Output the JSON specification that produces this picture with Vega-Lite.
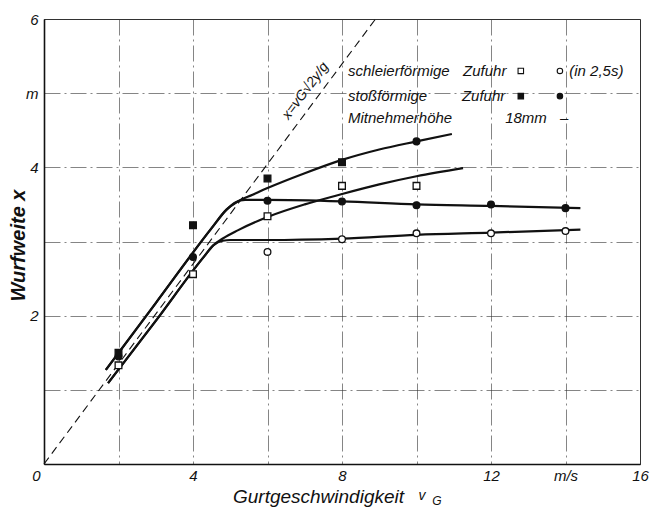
{
  "$schema": "https://vega.github.io/schema/vega-lite/v6.json",
  "width": 596,
  "height": 445,
  "autosize": "none",
  "padding": {"left": 44, "top": 19, "right": 17, "bottom": 46},
  "background": "white",
  "config": {
    "view": {"stroke": "#333", "strokeWidth": 1},
    "axis": {
      "domainColor": "#111",
      "domainWidth": 1.6,
      "grid": true,
      "gridColor": "#333",
      "gridWidth": 0.8,
      "gridDash": [16, 4, 2, 4],
      "gridOpacity": 0.75,
      "ticks": false,
      "labelFont": "Liberation Sans",
      "labelFontStyle": "italic",
      "labelFontSize": 15,
      "labelColor": "#111",
      "labelOverlap": false,
      "labelBound": false,
      "labelFlush": false,
      "titleFont": "Liberation Sans",
      "titleFontStyle": "italic",
      "titleColor": "#111"
    }
  },
  "datasets": {
    "curves": [
      {"series": "A", "x": 1.66, "y": 1.27}, {"series": "A", "x": 3.0, "y": 2.17}, {"series": "A", "x": 4.5, "y": 3.18}, {"series": "A", "x": 4.9, "y": 3.43}, {"series": "A", "x": 5.2, "y": 3.54}, {"series": "A", "x": 5.6, "y": 3.63}, {"series": "A", "x": 6, "y": 3.72}, {"series": "A", "x": 7, "y": 3.92}, {"series": "A", "x": 8, "y": 4.1}, {"series": "A", "x": 9, "y": 4.24}, {"series": "A", "x": 10, "y": 4.35}, {"series": "A", "x": 10.95, "y": 4.45},
      {"series": "B", "x": 1.66, "y": 1.27}, {"series": "B", "x": 3.0, "y": 2.17}, {"series": "B", "x": 4.5, "y": 3.18}, {"series": "B", "x": 4.9, "y": 3.43}, {"series": "B", "x": 5.15, "y": 3.53}, {"series": "B", "x": 5.4, "y": 3.56}, {"series": "B", "x": 6, "y": 3.56}, {"series": "B", "x": 8, "y": 3.54}, {"series": "B", "x": 10, "y": 3.5}, {"series": "B", "x": 12, "y": 3.48}, {"series": "B", "x": 14.4, "y": 3.45},
      {"series": "C", "x": 1.72, "y": 1.09}, {"series": "C", "x": 3.0, "y": 1.93}, {"series": "C", "x": 4.3, "y": 2.8}, {"series": "C", "x": 4.55, "y": 2.95}, {"series": "C", "x": 4.8, "y": 3.01}, {"series": "C", "x": 5.0, "y": 3.02}, {"series": "C", "x": 6, "y": 3.02}, {"series": "C", "x": 8, "y": 3.04}, {"series": "C", "x": 10, "y": 3.09}, {"series": "C", "x": 12, "y": 3.12}, {"series": "C", "x": 14.4, "y": 3.16},
      {"series": "D", "x": 1.72, "y": 1.09}, {"series": "D", "x": 3.0, "y": 1.93}, {"series": "D", "x": 4.3, "y": 2.8}, {"series": "D", "x": 4.55, "y": 2.95}, {"series": "D", "x": 4.8, "y": 3.04}, {"series": "D", "x": 5.2, "y": 3.15}, {"series": "D", "x": 6, "y": 3.33}, {"series": "D", "x": 7, "y": 3.5}, {"series": "D", "x": 8, "y": 3.64}, {"series": "D", "x": 9, "y": 3.77}, {"series": "D", "x": 10, "y": 3.88}, {"series": "D", "x": 11.25, "y": 3.99}
    ],
    "theory": [{"x": 0, "y": 0}, {"x": 8.9, "y": 6}],
    "points": [
      {"x": 2, "y": 1.33, "shape": "square", "fill": "open"},
      {"x": 4, "y": 2.56, "shape": "square", "fill": "open"},
      {"x": 6, "y": 3.34, "shape": "square", "fill": "open"},
      {"x": 8, "y": 3.75, "shape": "square", "fill": "open"},
      {"x": 10, "y": 3.75, "shape": "square", "fill": "open"},
      {"x": 6, "y": 2.86, "shape": "circle", "fill": "open"},
      {"x": 8, "y": 3.03, "shape": "circle", "fill": "open"},
      {"x": 10, "y": 3.11, "shape": "circle", "fill": "open"},
      {"x": 12, "y": 3.11, "shape": "circle", "fill": "open"},
      {"x": 14, "y": 3.14, "shape": "circle", "fill": "open"},
      {"x": 2, "y": 1.45, "shape": "circle", "fill": "solid"},
      {"x": 4, "y": 2.79, "shape": "circle", "fill": "solid"},
      {"x": 6, "y": 3.55, "shape": "circle", "fill": "solid"},
      {"x": 8, "y": 3.54, "shape": "circle", "fill": "solid"},
      {"x": 10, "y": 3.49, "shape": "circle", "fill": "solid"},
      {"x": 12, "y": 3.5, "shape": "circle", "fill": "solid"},
      {"x": 14, "y": 3.45, "shape": "circle", "fill": "solid"},
      {"x": 10, "y": 4.35, "shape": "circle", "fill": "solid"},
      {"x": 2, "y": 1.5, "shape": "square", "fill": "solid"},
      {"x": 4, "y": 3.22, "shape": "square", "fill": "solid"},
      {"x": 6, "y": 3.85, "shape": "square", "fill": "solid"},
      {"x": 8, "y": 4.07, "shape": "square", "fill": "solid"}
    ],
    "legendmarks": [
      {"x": 12.8, "y": 5.3, "shape": "square", "fill": "open"},
      {"x": 13.85, "y": 5.3, "shape": "circle", "fill": "open"},
      {"x": 12.8, "y": 4.96, "shape": "square", "fill": "solid"},
      {"x": 13.85, "y": 4.96, "shape": "circle", "fill": "solid"}
    ],
    "legendtext": [
      {"x": 8.16, "y": 5.3, "label": "schleierförmige"},
      {"x": 11.25, "y": 5.3, "label": "Zufuhr"},
      {"x": 14.1, "y": 5.3, "label": "(in 2,5s)"},
      {"x": 8.16, "y": 4.96, "label": "stoßförmige"},
      {"x": 11.22, "y": 4.96, "label": "Zufuhr"},
      {"x": 8.16, "y": 4.66, "label": "Mitnehmerhöhe"},
      {"x": 12.38, "y": 4.66, "label": "18mm"},
      {"x": 13.85, "y": 4.66, "label": "–"}
    ]
  },
  "encoding": {
    "x": {
      "field": "x", "type": "quantitative",
      "scale": {"domain": [0, 16], "nice": false, "zero": false},
      "axis": {
        "values": [0, 2, 4, 6, 8, 10, 12, 14, 16],
        "labelExpr": "datum.value == 14 ? 'm/s' : (datum.value % 4 == 0 ? datum.label : '')",
        "labelAlign": {"condition": {"test": "datum.value == 0", "value": "right"}, "value": "center"},
        "labelOffset": {"condition": {"test": "datum.value == 0", "value": -4}, "value": 0},
        "labelPadding": 4,
        "title": "Gurtgeschwindigkeit",
        "titleFontSize": 19,
        "titleFontWeight": "normal",
        "titleX": 274,
        "titleY": 38,
        "titleAlign": "center",
        "titleBaseline": "alphabetic"
      }
    },
    "y": {
      "field": "y", "type": "quantitative",
      "scale": {"domain": [0, 6], "nice": false, "zero": false},
      "axis": {
        "values": [0, 1, 2, 3, 4, 5, 6],
        "labelExpr": "datum.value == 5 ? 'm' : (datum.value % 2 == 0 && datum.value > 0 ? datum.label : '')",
        "labelPadding": 6,
        "title": "Wurfweite  x",
        "titleFontSize": 20,
        "titleFontWeight": "bold",
        "titleX": -26,
        "titleY": 226,
        "titleAngle": -90,
        "titleAlign": "center",
        "titleBaseline": "middle"
      }
    }
  },
  "layer": [
    {
      "data": {"name": "theory"},
      "mark": {"type": "line", "color": "#111", "strokeWidth": 1.1, "strokeDash": [8, 5]},
      "encoding": {}
    },
    {
      "data": {"name": "curves"},
      "mark": {"type": "line", "color": "#111", "strokeWidth": 2.2, "interpolate": "monotone"},
      "encoding": {"detail": {"field": "series"}}
    },
    {
      "data": {"name": "points"},
      "mark": {"type": "point", "filled": true, "stroke": "#111", "strokeWidth": 1.3, "size": 45, "opacity": 1},
      "encoding": {
        "shape": {"field": "shape", "type": "nominal", "scale": {"domain": ["square", "circle"], "range": ["square", "circle"]}, "legend": null},
        "fill": {"field": "fill", "type": "nominal", "scale": {"domain": ["open", "solid"], "range": ["white", "#111"]}, "legend": null}
      }
    },
    {
      "data": {"name": "legendmarks"},
      "mark": {"type": "point", "filled": true, "stroke": "#111", "strokeWidth": 1.1, "size": 30, "opacity": 1},
      "encoding": {
        "shape": {"field": "shape", "type": "nominal", "legend": null},
        "fill": {"field": "fill", "type": "nominal", "legend": null}
      }
    },
    {
      "data": {"name": "legendtext"},
      "mark": {"type": "text", "align": "left", "baseline": "middle", "font": "Liberation Sans", "fontStyle": "italic", "fontSize": 15, "color": "#111"},
      "encoding": {"text": {"field": "label"}}
    },
    {
      "data": {"values": [{"x": 7.02, "y": 5.03, "label": "x=vG√2y/g"}]},
      "mark": {"type": "text", "align": "center", "baseline": "middle", "angle": -53, "font": "Liberation Sans", "fontStyle": "italic", "fontSize": 14, "color": "#111"},
      "encoding": {"text": {"field": "label"}}
    },
    {
      "data": {"values": [{"x": 10.15, "y": -0.43, "label": "v"}]},
      "mark": {"type": "text", "align": "center", "baseline": "middle", "font": "Liberation Sans", "fontStyle": "italic", "fontSize": 14, "color": "#111"},
      "encoding": {"text": {"field": "label"}}
    },
    {
      "data": {"values": [{"x": 10.55, "y": -0.5, "label": "G"}]},
      "mark": {"type": "text", "align": "center", "baseline": "middle", "font": "Liberation Sans", "fontStyle": "italic", "fontSize": 12, "color": "#111"},
      "encoding": {"text": {"field": "label"}}
    }
  ]
}
